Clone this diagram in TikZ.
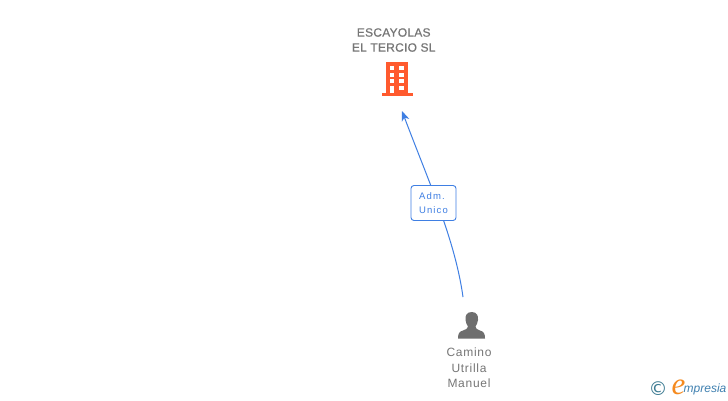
\documentclass[tikz,border=0pt]{standalone}
\usepackage{fontspec}
\setmainfont{Liberation Sans}
\newfontfamily\spacedfont[LetterSpace=6]{Liberation Sans}
\newfontfamily\widefont[LetterSpace=12]{Liberation Sans}
\newfontfamily\titlefont[LetterSpace=2,FakeBold=0.6]{Liberation Sans}
\newfontfamily\logofont{Liberation Serif}
\newfontfamily\symbfont{DejaVu Sans}
\usetikzlibrary{arrows.meta,backgrounds}
\definecolor{linkblue}{HTML}{3F7FE3}
\definecolor{txtgray}{HTML}{767676}
\definecolor{bldg}{HTML}{FF5A2E}
\definecolor{persongray}{HTML}{6E6E6E}
\definecolor{logoteal}{HTML}{3E7C93}
\definecolor{logoorange}{HTML}{F58A1F}
\definecolor{logoblue}{HTML}{3F80B0}
\tikzset{
  x=1pt,y=-1pt,
  nametext/.style={text=txtgray,align=center,inner sep=0pt,font=\titlefont\fontsize{12}{15}\selectfont},
  persontext/.style={text=txtgray,align=center,inner sep=0pt,font=\spacedfont\fontsize{12}{15.5}\selectfont},
  linkbox/.style={draw=linkblue,line width=0.9pt,rounded corners=3pt,fill=white,minimum width=45pt,minimum height=35pt,inner sep=0pt,align=center,text=linkblue,font=\widefont\fontsize{9.5}{14.5}\selectfont},
  link/.style={draw=linkblue,line width=1pt,-{Stealth[length=10pt,width=8pt,inset=3pt]}},
  window/.style={fill=white,draw=none},
}
\begin{document}
\begin{tikzpicture}
\useasboundingbox (0,0) rectangle (728,400);
% company
\node[nametext] (company) at (393.7,40) {ESCAYOLAS\\EL TERCIO SL};
\fill[bldg] (386,62) rectangle (408.3,94);
\fill[bldg] (381.7,93) rectangle (412.7,95.7);
\foreach \xa/\xb in {390/394.3,399.3/404}{
  \fill[window] (\xa,66.3) rectangle (\xb,70.3);
  \fill[window] (\xa,72.5) rectangle (\xb,76.7);
  \fill[window] (\xa,79) rectangle (\xb,83.3);
}
\fill[window] (390,85.7) rectangle (394.3,93);
\fill[window] (399.3,85.7) rectangle (404,90.3);
\coordinate (companyIn) at (402,111);
% person
\fill[persongray] (471.7,312) .. controls (466.5,312) and (465,316) .. (465.5,320)
  .. controls (465.8,323) and (467,325) .. (468,326.5)
  .. controls (468,328.5) and (466,329.5) .. (463,330.5)
  .. controls (459.5,331.5) and (458,333) .. (458,338.5)
  -- (485,338.5)
  .. controls (485,333) and (483.5,331.5) .. (480,330.5)
  .. controls (477,329.5) and (475.5,328.5) .. (475.5,326.5)
  .. controls (476.5,325) and (477.7,323) .. (478,320)
  .. controls (478.5,316) and (477,312) .. (471.7,312) -- cycle;
\node[persontext] (person) at (469,368) {Camino\\Utrilla\\Manuel};
\coordinate (personOut) at (463,297);
% link
\node[linkbox] (role) at (433.5,203) {\raisebox{-1pt}{\hspace*{-3pt}Adm.}\\\raisebox{-1pt}{Unico}};
\begin{scope}[on background layer]
\fill[white] (0,0) rectangle (728,400);
\draw[link] (personOut) .. controls (455,240) and (430,185) .. (companyIn);
\end{scope}
% logo
\node[inner sep=0pt,text=logoteal,font=\symbfont\fontsize{19}{19}\selectfont] (copyright) at (658,389) {©};
\node[inner sep=0pt,text=logoorange,font=\logofont\itshape\fontsize{31}{31}\selectfont] (logoe) at (678.5,387) {e};
\node[inner sep=0pt,anchor=west,text=logoblue,font=\itshape\fontsize{12}{15}\selectfont] (logotext) at (683.5,389.5) {mpresia};
\end{tikzpicture}
\end{document}
